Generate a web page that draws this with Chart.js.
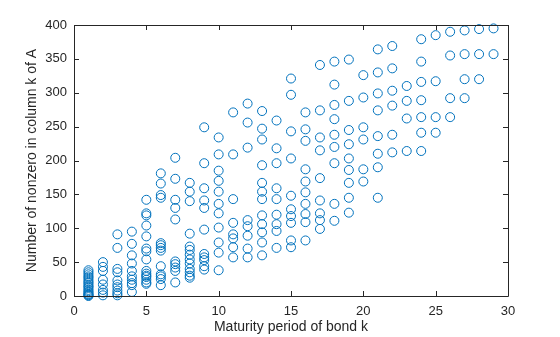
<!DOCTYPE html>
<html lang="en">
<head>
  <meta charset="UTF-8">
  <title>Nonzeros per column</title>
  <script src="https://cdn.jsdelivr.net/npm/chart.js"></script>
  <style>
    html, body { margin: 0; padding: 0; background: #fff; }
    #wrap { width: 560px; height: 337px; }
  </style>
</head>
<body>
  <div id="wrap"><canvas id="myChart"></canvas></div>

  <script>
    // maturity periods (x) and the nonzero counts read for each period
    const periods = [1, 2, 3, 4, 5, 6, 7, 8, 9, 10, 11, 12, 13, 14, 15,
                     16, 17, 18, 19, 20, 21, 22, 23, 24, 25, 26, 27, 28, 29];
    const counts = [
      [38, 35, 32, 29, 27, 24, 21, 19, 16, 14, 12, 9, 7, 5, 3, 2, 1, 0],
      [50, 43, 37, 24, 17, 9, 5, 1],
      [91, 71, 40, 35, 23, 17, 13, 8, 4, 1],
      [95, 77, 60, 48, 37, 29, 24, 19, 16, 6],
      [142, 122, 119, 104, 88, 70, 66, 54, 37, 33, 30, 28, 24, 20, 18],
      [181, 166, 149, 145, 78, 75, 71, 67, 44, 32, 29, 25, 16],
      [204, 173, 142, 130, 113, 51, 47, 42, 37, 20],
      [167, 154, 140, 92, 73, 68, 61, 54, 48, 40, 35, 30, 27],
      [249, 196, 159, 141, 130, 98, 62, 57, 53, 44, 39],
      [234, 209, 185, 170, 154, 136, 122, 101, 79, 64, 38],
      [271, 209, 143, 108, 91, 85, 72, 57],
      [284, 256, 219, 112, 103, 89, 70, 57],
      [273, 247, 231, 193, 167, 154, 143, 119, 106, 94, 79, 60],
      [259, 218, 196, 159, 143, 120, 106, 96, 71],
      [321, 297, 243, 203, 148, 128, 118, 108, 82, 72],
      [271, 246, 229, 187, 169, 153, 136, 121, 109, 82],
      [341, 274, 234, 215, 174, 141, 122, 112, 99],
      [346, 312, 282, 261, 238, 220, 196, 136, 111],
      [349, 288, 245, 224, 203, 186, 167, 145, 123],
      [326, 293, 249, 231, 187, 169],
      [364, 330, 299, 274, 236, 210, 190, 145],
      [369, 336, 303, 281, 238, 212],
      [310, 288, 262, 214],
      [379, 346, 316, 289, 264, 241, 214],
      [385, 317, 264, 241],
      [390, 355, 292, 264],
      [392, 357, 320, 292],
      [394, 357, 320],
      [395, 357]
    ];
    const xTicks = [0, 5, 10, 15, 20, 25, 30];
    const yTicks = [0, 50, 100, 150, 200, 250, 300, 350, 400];

    const points = [];
    periods.forEach((p, i) => {
      counts[i].forEach(v => points.push({ x: p, y: v }));
    });

    const axisColor = '#262626';
    const fontFamily = "'Liberation Sans', Arial, sans-serif";

    // MATLAB-like box with inward ticks on all four sides
    const boxPlugin = {
      id: 'boxTicks',
      afterDraw(chart) {
        const { ctx, chartArea: a, scales } = chart;
        const len = 5;
        ctx.save();
        ctx.strokeStyle = axisColor;
        ctx.lineWidth = 1;
        ctx.beginPath();
        ctx.rect(Math.round(a.left) + 0.5, Math.round(a.top) + 0.5,
                 Math.round(a.right - a.left), Math.round(a.bottom - a.top));
        xTicks.forEach(t => {
          const px = Math.round(scales.x.getPixelForValue(t)) + 0.5;
          ctx.moveTo(px, a.bottom); ctx.lineTo(px, a.bottom - len);
          ctx.moveTo(px, a.top); ctx.lineTo(px, a.top + len);
        });
        yTicks.forEach(t => {
          const py = Math.round(scales.y.getPixelForValue(t)) + 0.5;
          ctx.moveTo(a.left, py); ctx.lineTo(a.left + len, py);
          ctx.moveTo(a.right, py); ctx.lineTo(a.right - len, py);
        });
        ctx.stroke();
        ctx.restore();
      }
    };

    const ctx = document.getElementById('myChart').getContext('2d');
    new Chart(ctx, {
      type: 'scatter',
      data: {
        datasets: [{
          data: points,
          pointStyle: 'circle',
          pointRadius: 4.5,
          pointHoverRadius: 4.5,
          borderWidth: 1,
          borderColor: '#0072BD',
          backgroundColor: 'rgba(0,0,0,0)',
          clip: false
        }]
      },
      options: {
        responsive: true,
        maintainAspectRatio: false,
        animation: false,
        layout: { padding: { left: 24, right: 52, top: 25, bottom: 0 } },
        plugins: { legend: { display: false }, tooltip: { enabled: false } },
        scales: {
          x: {
            type: 'linear',
            min: 0, max: 30,
            afterBuildTicks: s => { s.ticks = xTicks.map(v => ({ value: v })); },
            afterFit: s => { s.height = 41; },
            grid: { display: false, drawTicks: false },
            border: { display: false },
            ticks: { color: axisColor, padding: 8, font: { family: fontFamily, size: 13 }, maxRotation: 0 },
            title: {
              display: true,
              text: 'Maturity period of bond k',
              color: axisColor,
              font: { family: fontFamily, size: 14 },
              padding: { top: 0, bottom: 1 }
            }
          },
          y: {
            type: 'linear',
            min: 0, max: 400,
            afterBuildTicks: s => { s.ticks = yTicks.map(v => ({ value: v })); },
            afterFit: s => { s.width = 50; },
            grid: { display: false, drawTicks: false },
            border: { display: false },
            ticks: { color: axisColor, padding: 7, font: { family: fontFamily, size: 13 } },
            title: {
              display: true,
              text: 'Number of nonzero in column k of A',
              color: axisColor,
              font: { family: fontFamily, size: 14 },
              padding: { top: 0, bottom: 2 }
            }
          }
        }
      },
      plugins: [boxPlugin]
    });
  </script>
</body>
</html>
